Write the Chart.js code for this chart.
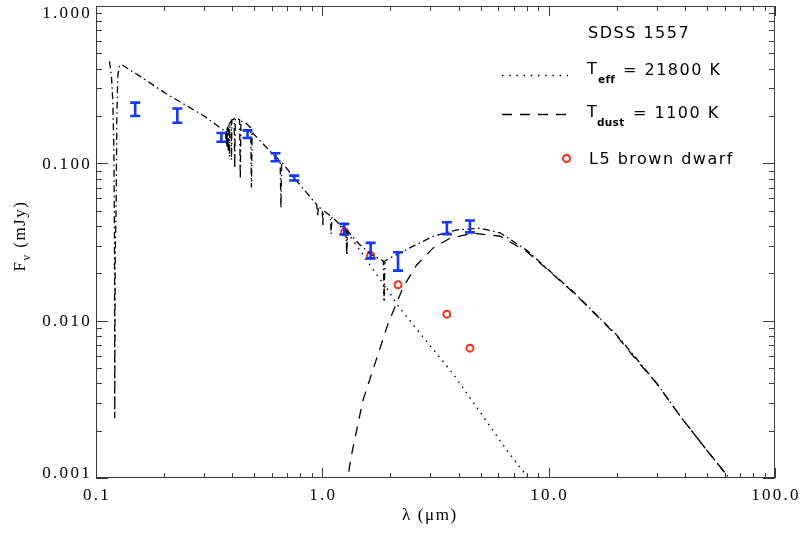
<!DOCTYPE html>
<html><head><meta charset="utf-8">
<script src="https://cdn.jsdelivr.net/npm/chart.js@4.4.0/dist/chart.umd.min.js"></script>
<style>html,body{margin:0;padding:0;background:#fff;} #wrap{width:803px;height:536px;}</style>
</head><body><div id="wrap"><canvas id="c" width="803" height="536"></canvas></div>
<script>
// ---- data ----
// total model (white dwarf + dust), dash-dot
const totalLambda = [0.1147,0.1170,0.1187,0.1200,0.1207,0.1210,0.1216,0.1228,0.1236,0.1249,0.1270,0.1293,0.160,0.2044,0.300,0.365,
 0.3740,0.3750,0.3760,0.3765,0.3771,0.3780,0.3790,0.3798,0.3808,0.3825,0.3835,0.3848,0.3875,0.3889,0.3903,0.3955,0.3970,0.3985,
 0.4080,0.4102,0.4125,0.417,0.4310,0.4340,0.4370,0.462,0.4825,0.4861,0.4895,0.494,0.621,0.6510,0.6563,0.6610,0.743,
 0.944,0.9546,0.960,1.000,1.005,1.012,1.085,1.094,1.102,1.20,1.272,1.282,1.292,1.46,1.635,1.86,1.875,1.89,
 2.20,2.61,3.09,3.93,4.98,6.1,8.0,10.0,13.0,16.8,20.0,25.0,30.0,37.9,50.0,62.7,70.0];
const totalFlux = [0.445,0.36,0.245,0.118,0.03,0.0024,0.025,0.057,0.2,0.363,0.415,0.426,0.350,0.277,0.200,0.163,
 0.162,0.135,0.163,0.164,0.13,0.165,0.166,0.125,0.168,0.170,0.118,0.173,0.177,0.11,0.180,0.186,0.105,0.188,
 0.192,0.093,0.193,0.193,0.189,0.0797,0.186,0.179,0.168,0.0702,0.160,0.155,0.110,0.104,0.0519,0.102,0.0823,
 0.0546,0.046,0.0533,0.0505,0.040,0.0500,0.0465,0.0355,0.0458,0.0405,0.0378,0.0263,0.0370,0.0305,0.0265,0.0239,0.0135,0.0240,
 0.027,0.0305,0.0344,0.0378,0.0387,0.0362,0.028,0.021,0.015,0.0104,0.0081,0.0055,0.0040,0.0025,0.0015,0.001,0.0008];
// white dwarf photosphere, Teff = 21800 K, dotted
const wdLambda = [1.20,1.272,1.282,1.292,1.46,1.635,1.86,1.875,1.89,2.13,2.6,3.0,3.79,4.69,6.54,8.12,9.0];
const wdFlux   = [0.0400,0.0370,0.0263,0.0362,0.0283,0.0222,0.0172,0.0130,0.0168,0.01276,0.0089,0.0069,0.00458,0.00296,0.0015,0.001,0.00081];
// dust, Tdust = 1100 K, dashed
const dustLambda = [1.25,1.295,1.34,1.51,1.65,1.95,2.27,2.61,3.09,3.66,4.65,6.1,8.0,10.0,13.0,16.8,20.0,25.0,30.0,37.9,50.0,62.7,70.0];
const dustFlux   = [0.00085,0.001,0.00136,0.0031,0.00458,0.00953,0.0162,0.0226,0.029,0.0334,0.036,0.0344,0.0275,0.0208,0.0149,0.0103,0.0080,0.0054,0.0040,0.0025,0.0015,0.001,0.0008];
// photometry with error bars (blue)
const photLambda = [0.149,0.2287,0.358,0.467,0.621,0.751,1.25,1.635,2.16,3.55,4.49];
const photFlux   = [0.221,0.2009,0.146,0.154,0.110,0.0806,0.038,0.0279,0.0239,0.0387,0.0397];
const photLow    = [0.200,0.181,0.137,0.145,0.103,0.0778,0.0353,0.0249,0.0208,0.0355,0.0364];
const photHigh   = [0.243,0.223,0.156,0.162,0.116,0.0835,0.0412,0.0312,0.0272,0.0422,0.0433];
// L5 brown dwarf (red circles)
const bdLambda = [1.256,1.635,2.16,3.55,4.49];
const bdFlux   = [0.0366,0.026,0.0169,0.0110,0.00669];
// axis ticks
const xTickValues = [0.1,1,10,100];
const xTickLabels = ['0.1','1.0','10.0','100.0'];
const yTickValues = [0.001,0.01,0.1,1];
const yTickLabels = ['0.001','0.010','0.100','1.000'];
const xTitle = 'λ (μm)';
const legendTitle = 'SDSS 1557';
const legendWD = ['T','eff','= 21800 K'];
const legendDust = ['T','dust','= 1100 K'];
const legendBD = 'L5 brown dwarf';

const pts = (xs, ys) => xs.map((x, i) => ({x, y: ys[i]}));

const frameColor = '#3a3a3a';
const plotPlugin = {
  id: 'idlStyle',
  afterDatasetsDraw(chart) {
    const ctx = chart.ctx, xs = chart.scales.x, ys = chart.scales.y;
    // error bars
    ctx.save();
    ctx.strokeStyle = '#1238ff';
    ctx.lineWidth = 2.6;
    ctx.lineCap = 'butt';
    photLambda.forEach((l, i) => {
      const px = xs.getPixelForValue(l);
      const y1 = ys.getPixelForValue(photHigh[i]);
      const y2 = ys.getPixelForValue(photLow[i]);
      ctx.beginPath();
      ctx.moveTo(px, y1); ctx.lineTo(px, y2);
      ctx.moveTo(px - 5, y1); ctx.lineTo(px + 5, y1);
      ctx.moveTo(px - 5, y2); ctx.lineTo(px + 5, y2);
      ctx.stroke();
    });
    ctx.restore();
  },
  afterDraw(chart) {
    const ctx = chart.ctx, xs = chart.scales.x, ys = chart.scales.y;
    const a = chart.chartArea;
    ctx.save();
    ctx.strokeStyle = frameColor;
    ctx.lineWidth = 1;
    ctx.strokeRect(a.left + 0.5, a.top + 0.5, a.right - a.left - 1, a.bottom - a.top - 1);
    ctx.beginPath();
    // x ticks
    for (let k = -1; k <= 1; k++) {
      for (let m = 1; m <= 10; m++) {
        const v = m * Math.pow(10, k);
        if (v < xs.min * 0.999 || v > xs.max * 1.001) continue;
        const major = (m === 1 || m === 10);
        const len = major ? 10 : 5;
        const px = Math.round(xs.getPixelForValue(v)) + 0.5;
        ctx.moveTo(px, a.bottom); ctx.lineTo(px, a.bottom - len);
        ctx.moveTo(px, a.top); ctx.lineTo(px, a.top + len);
      }
    }
    // y ticks
    for (let k = -3; k <= -1; k++) {
      for (let m = 1; m <= 10; m++) {
        const v = m * Math.pow(10, k);
        if (v < ys.min * 0.999 || v > ys.max * 1.001) continue;
        const major = (m === 1 || m === 10);
        const len = major ? 12 : 6;
        const py = Math.round(ys.getPixelForValue(v)) + 0.5;
        ctx.moveTo(a.left, py); ctx.lineTo(a.left + len, py);
        ctx.moveTo(a.right, py); ctx.lineTo(a.right - len, py);
      }
    }
    ctx.stroke();

    // tick labels
    ctx.fillStyle = '#000';
    ctx.font = '17px "Liberation Serif"';
    ctx.letterSpacing = '2.3px';
    ctx.textBaseline = 'middle';
    ctx.textAlign = 'center';
    xTickValues.forEach((v, i) => {
      ctx.fillText(xTickLabels[i], xs.getPixelForValue(v) + 1, 496);
    });
    ctx.textAlign = 'right';
    yTickValues.forEach((v, i) => {
      let py = ys.getPixelForValue(v);
      py = Math.min(Math.max(py, a.top + 7), a.bottom - 5);
      ctx.fillText(yTickLabels[i], 92, py + 1);
    });
    // x title
    ctx.textAlign = 'center';
    ctx.letterSpacing = '1.6px';
    ctx.fillText(xTitle, 430, 516);
    // y title (rotated)
    ctx.save();
    ctx.translate(21, 236);
    ctx.rotate(-Math.PI / 2);
    ctx.textAlign = 'left';
    ctx.font = '17px "Liberation Serif"';
    ctx.letterSpacing = '1.5px';
    const wF = ctx.measureText('F').width;
    ctx.font = '12px "Liberation Serif"';
    const wNu = ctx.measureText('ν').width;
    ctx.font = '17px "Liberation Serif"';
    const wRest = ctx.measureText(' (mJy)').width;
    let x0 = -(wF + wNu + wRest) / 2;
    ctx.fillText('F', x0, 0);
    ctx.font = '12px "Liberation Serif"';
    ctx.fillText('ν', x0 + wF, 6);
    ctx.font = '17px "Liberation Serif"';
    ctx.fillText(' (mJy)', x0 + wF + wNu, 0);
    ctx.restore();

    // legend
    ctx.textAlign = 'left';
    ctx.font = '16px "DejaVu Sans"';
    ctx.letterSpacing = '1.5px';
    ctx.fillText(legendTitle, 588, 34);
    ctx.fillText(legendWD[0], 587, 70);
    ctx.fillText(legendWD[2], 623, 71);
    ctx.fillText(legendDust[0], 587, 113);
    ctx.fillText(legendDust[2], 633, 114);
    ctx.fillText(legendBD, 589, 160);
    ctx.font = 'bold 10.5px "DejaVu Sans"';
    ctx.letterSpacing = '0.3px';
    ctx.fillText(legendWD[1], 598, 80);
    ctx.fillText(legendDust[1], 597, 123);
    // legend samples
    ctx.strokeStyle = '#000';
    ctx.lineWidth = 1.4;
    ctx.setLineDash([1.5, 5.7]);
    ctx.beginPath(); ctx.moveTo(502, 75.5); ctx.lineTo(568, 75.5); ctx.stroke();
    ctx.setLineDash([10, 8]);
    ctx.beginPath(); ctx.moveTo(502, 114.5); ctx.lineTo(568, 114.5); ctx.stroke();
    ctx.setLineDash([]);
    ctx.strokeStyle = '#ff2a10';
    ctx.lineWidth = 2;
    ctx.beginPath(); ctx.arc(566.5, 158.5, 3.5, 0, Math.PI * 2); ctx.stroke();
    ctx.restore();
  }
};

new Chart(document.getElementById('c'), {
  type: 'scatter',
  data: {
    datasets: [
      { data: pts(totalLambda, totalFlux), showLine: true, borderColor: '#000', borderWidth: 1.3,
        borderDash: [7, 3.5, 1.5, 3.5], pointRadius: 0, tension: 0 },
      { data: pts(wdLambda, wdFlux), showLine: true, borderColor: '#000', borderWidth: 1.4,
        borderDash: [1.5, 5], pointRadius: 0, tension: 0 },
      { data: pts(dustLambda, dustFlux), showLine: true, borderColor: '#000', borderWidth: 1.3,
        borderDash: [10, 8], pointRadius: 0, tension: 0 },
      { data: pts(bdLambda, bdFlux), showLine: false, pointStyle: 'circle', pointRadius: 3.5,
        borderColor: '#ff2a10', borderWidth: 2, backgroundColor: 'rgba(0,0,0,0)' }
    ]
  },
  options: {
    responsive: false, animation: false, devicePixelRatio: 1,
    layout: { padding: { left: 96, right: 28, top: 4, bottom: 58 } },
    plugins: { legend: { display: false }, tooltip: { enabled: false } },
    scales: {
      x: { type: 'logarithmic', min: 0.1, max: 100, display: false },
      y: { type: 'logarithmic', min: 0.001, max: 1, display: false }
    }
  },
  plugins: [plotPlugin]
});
</script>
</body></html>
